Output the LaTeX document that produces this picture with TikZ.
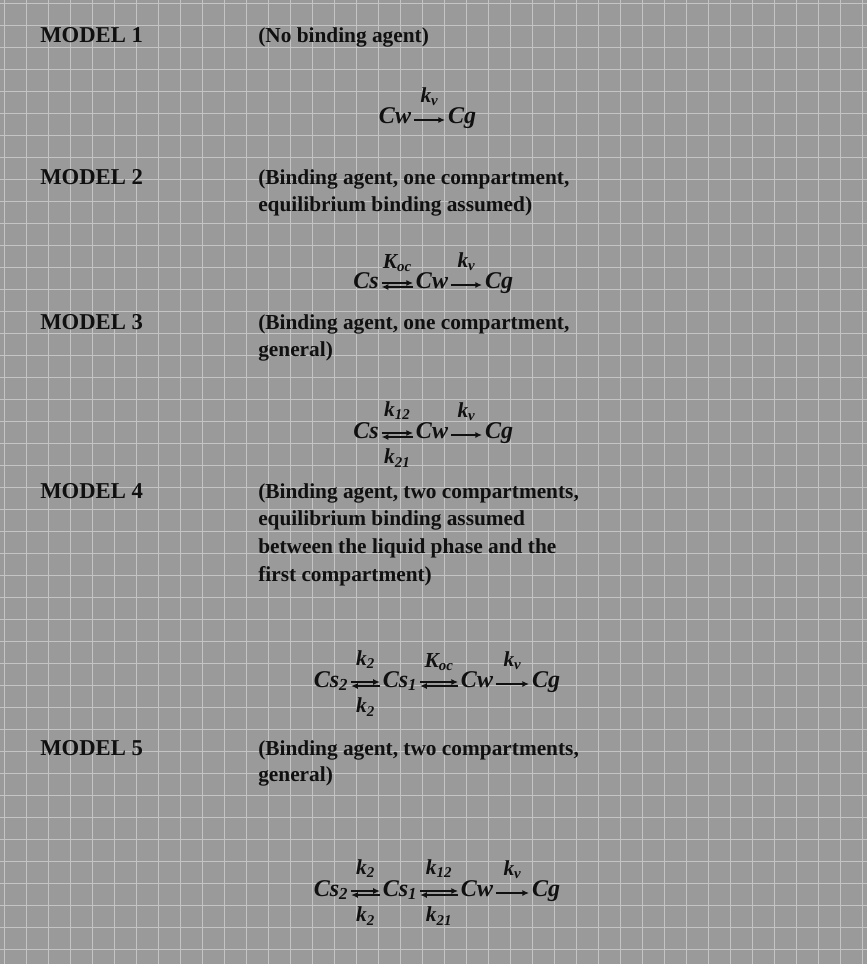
\documentclass[tikz,border=0pt]{standalone}
\usepackage{fontspec}
\setmainfont{Liberation Serif}
\usetikzlibrary{arrows.meta}
\definecolor{plateBg}{HTML}{9A9A9A}
\definecolor{plateGrid}{HTML}{C4C4C4}
\definecolor{plateInk}{HTML}{101010}

\begin{document}
\begin{tikzpicture}[
    x=0.75pt,y=-0.75pt,>=Latex,
    model/.style={anchor=base west,inner sep=0pt,text=plateInk,font=\bfseries\fontsize{17}{20}\selectfont},
    desc/.style={anchor=base west,inner sep=0pt,text=plateInk,font=\bfseries\fontsize{16}{20}\selectfont},
    species/.style={inner sep=1pt,text height=1.45ex,text depth=0.35ex,text=plateInk,font=\bfseries\itshape\fontsize{18}{20}\selectfont},
    rate/.style={inner sep=0pt,text=plateInk,font=\bfseries\itshape\fontsize{16}{18}\selectfont},
    fwd/.style={-{Latex[length=5pt,width=4.5pt]},draw=plateInk,line width=1.1pt,shorten >=1pt,shorten <=1pt},
    gridline/.style={draw=plateGrid,line width=0.5pt}
]
\useasboundingbox (0,0) rectangle (867,964);
% halftone plate
\fill[plateBg] (0,0) rectangle (867,964);
\foreach \gx in {4,26,...,866} \draw[gridline] (\gx,0) -- (\gx,964);
\foreach \gy in {3,25,...,963} \draw[gridline] (0,\gy) -- (867,\gy);

% model 1
\node[model] (model1) at (40,42) {MODEL 1};
\node[desc] (desc1a) at (258,42) {(No binding agent)};
\node[species] (cw1) at (395,120) {Cw};
\node[species] (cg1) at (462,120) {Cg};
\draw[fwd] (cw1) -- node[rate,above=10pt] (kv1) {k\textsubscript{v}} (cg1);

% model 2
\node[model] (model2) at (40,184) {MODEL 2};
\node[desc] (desc2a) at (258,184) {(Binding agent, one compartment,};
\node[desc] (desc2b) at (258,211) {equilibrium binding assumed)};
\node[species] (cs2) at (366,285) {Cs};
\node[species] (cw2) at (432,285) {Cw};
\node[species] (cg2) at (499,285) {Cg};
\draw[fwd] ([yshift=1.5pt]cs2.east) -- ([yshift=1.5pt]cw2.west);
\draw[fwd] ([yshift=-1.5pt]cw2.west) -- node[rate,above=11pt] (koc2) {K\textsubscript{oc}} ([yshift=-1.5pt]cs2.east);
\draw[fwd] (cw2) -- node[rate,above=10pt] (kv2) {k\textsubscript{v}} (cg2);

% model 3
\node[model] (model3) at (40,329) {MODEL 3};
\node[desc] (desc3a) at (258,329) {(Binding agent, one compartment,};
\node[desc] (desc3b) at (258,356) {general)};
\node[species] (cs3) at (366,435) {Cs};
\node[species] (cw3) at (432,435) {Cw};
\node[species] (cg3) at (499,435) {Cg};
\draw[fwd] ([yshift=1.5pt]cs3.east) -- node[rate,above=9.5pt] (k12m3) {k\textsubscript{12}} ([yshift=1.5pt]cw3.west);
\draw[fwd] ([yshift=-1.5pt]cw3.west) -- node[rate,below=8.5pt] (k21m3) {k\textsubscript{21}} ([yshift=-1.5pt]cs3.east);
\draw[fwd] (cw3) -- node[rate,above=10pt] (kv3) {k\textsubscript{v}} (cg3);

% model 4
\node[model] (model4) at (40,498) {MODEL 4};
\node[desc] (desc4a) at (258,498) {(Binding agent, two compartments,};
\node[desc] (desc4b) at (258,525) {equilibrium binding assumed};
\node[desc] (desc4c) at (258,553) {between the liquid phase and the};
\node[desc] (desc4d) at (258,581) {first compartment)};
\node[species] (cstwo4) at (331,684) {Cs\textsubscript{2}};
\node[species] (csone4) at (400,684) {Cs\textsubscript{1}};
\node[species] (cw4) at (477,684) {Cw};
\node[species] (cg4) at (546,684) {Cg};
\draw[fwd] ([yshift=1.5pt]cstwo4.east) -- node[rate,above=9.5pt] (kup4) {k\textsubscript{2}} ([yshift=1.5pt]csone4.west);
\draw[fwd] ([yshift=-1.5pt]csone4.west) -- node[rate,below=8.5pt] (kdown4) {k\textsubscript{2}} ([yshift=-1.5pt]cstwo4.east);
\draw[fwd] ([yshift=1.5pt]csone4.east) -- ([yshift=1.5pt]cw4.west);
\draw[fwd] ([yshift=-1.5pt]cw4.west) -- node[rate,above=11pt] (koc4) {K\textsubscript{oc}} ([yshift=-1.5pt]csone4.east);
\draw[fwd] (cw4) -- node[rate,above=10pt] (kv4) {k\textsubscript{v}} (cg4);

% model 5
\node[model] (model5) at (40,755) {MODEL 5};
\node[desc] (desc5a) at (258,755) {(Binding agent, two compartments,};
\node[desc] (desc5b) at (258,781) {general)};
\node[species] (cstwo5) at (331,893) {Cs\textsubscript{2}};
\node[species] (csone5) at (400,893) {Cs\textsubscript{1}};
\node[species] (cw5) at (477,893) {Cw};
\node[species] (cg5) at (546,893) {Cg};
\draw[fwd] ([yshift=1.5pt]cstwo5.east) -- node[rate,above=9.5pt] (kup5) {k\textsubscript{2}} ([yshift=1.5pt]csone5.west);
\draw[fwd] ([yshift=-1.5pt]csone5.west) -- node[rate,below=8.5pt] (kdown5) {k\textsubscript{2}} ([yshift=-1.5pt]cstwo5.east);
\draw[fwd] ([yshift=1.5pt]csone5.east) -- node[rate,above=9.5pt] (k12m5) {k\textsubscript{12}} ([yshift=1.5pt]cw5.west);
\draw[fwd] ([yshift=-1.5pt]cw5.west) -- node[rate,below=8.5pt] (k21m5) {k\textsubscript{21}} ([yshift=-1.5pt]csone5.east);
\draw[fwd] (cw5) -- node[rate,above=10pt] (kv5) {k\textsubscript{v}} (cg5);
\end{tikzpicture}
\end{document}
